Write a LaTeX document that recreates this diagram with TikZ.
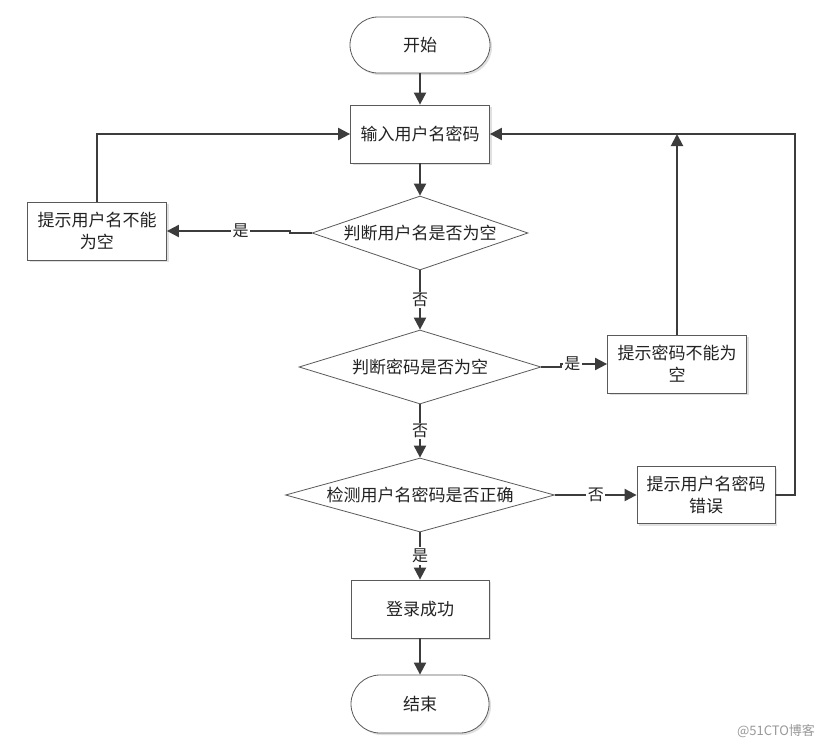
\documentclass[tikz,border=0pt]{standalone}
\usepackage{fontspec}
\setmainfont{Noto Sans CJK SC}
\usetikzlibrary{shapes.geometric,arrows.meta,shadows}
\definecolor{linec}{HTML}{3C3C3C}
\definecolor{borderc}{HTML}{5A5A5A}
\definecolor{textc}{HTML}{222222}
\begin{document}
\begin{tikzpicture}[x=1pt,y=-1pt,
  font=\fontsize{17}{22}\selectfont\color{textc},
  shad/.style={drop shadow={shadow xshift=2pt,shadow yshift=-2pt,fill=black!12,opacity=1}},
  term/.style={draw=borderc,line width=0.8pt,fill=white,rounded corners=28pt,minimum width=140pt,minimum height=56pt,inner sep=0pt,shad},
  proc/.style={draw=borderc,line width=0.8pt,fill=white,minimum width=139pt,minimum height=58pt,inner sep=0pt,align=center,shad},
  dec/.style={draw=borderc,line width=0.8pt,fill=white,diamond,inner sep=0pt,aspect=3.4},
  arr/.style={draw=linec,line width=2pt,-{Triangle[length=12pt,width=12pt]}},
  lab/.style={fill=white,inner sep=1.5pt,font=\fontsize{16}{19}\selectfont\color{textc}}
]
\useasboundingbox (0,0) rectangle (830,750);
\fill[white] (0,0) rectangle (830,750);

\node[term] (start) at (420,45) {开始};
\node[proc] (in) at (420,134) {输入用户名密码};
\node[dec,minimum width=216pt,minimum height=74pt] (d1) at (420,233) {判断用户名是否为空};
\node[proc] (b1) at (97,231) {提示用户名不能\\为空};
\node[dec,minimum width=242pt,minimum height=74pt] (d2) at (420,367) {判断密码是否为空};
\node[proc] (b2) at (677,364) {提示密码不能为\\空};
\node[dec,minimum width=269pt,minimum height=74pt] (d3) at (420,495) {检测用户名密码是否正确};
\node[proc,minimum width=138pt,minimum height=57pt] (b3) at (706,495) {提示用户名密码\\错误};
\node[proc,minimum width=138pt] (ok) at (420,609) {登录成功};
\node[term,minimum width=138pt,minimum height=58pt,rounded corners=29pt] (end) at (420,704) {结束};

\draw[arr] (start) -- (in);
\draw[arr] (in) -- (d1);
\draw[arr] (d1) -- node[lab]{否} (d2);
\draw[arr] (d2) -- node[lab]{否} (d3);
\draw[arr] (d3) -- node[lab]{是} (ok);
\draw[arr] (ok) -- (end);

\draw[arr] (d1.west) -- ++(-22,0) |- (b1.east) node[lab,pos=0.70]{是};
\draw[arr] (b1.north) |- (in.west);

\draw[arr] (d2.east) -- ++(20,0) |- (b2.west) node[lab,pos=0.62]{是};
\draw[arr] (b2.north) -- (b2.north |- in.east);

\draw[arr] (d3.east) -- node[lab]{否} (b3.west);
\draw[arr] (b3.east) -- ++(20,0) |- (in.east);

\node[font=\fontsize{13}{15}\selectfont\color{black!40}] (wm) at (776,731) {@51CTO博客};
\end{tikzpicture}
\end{document}
